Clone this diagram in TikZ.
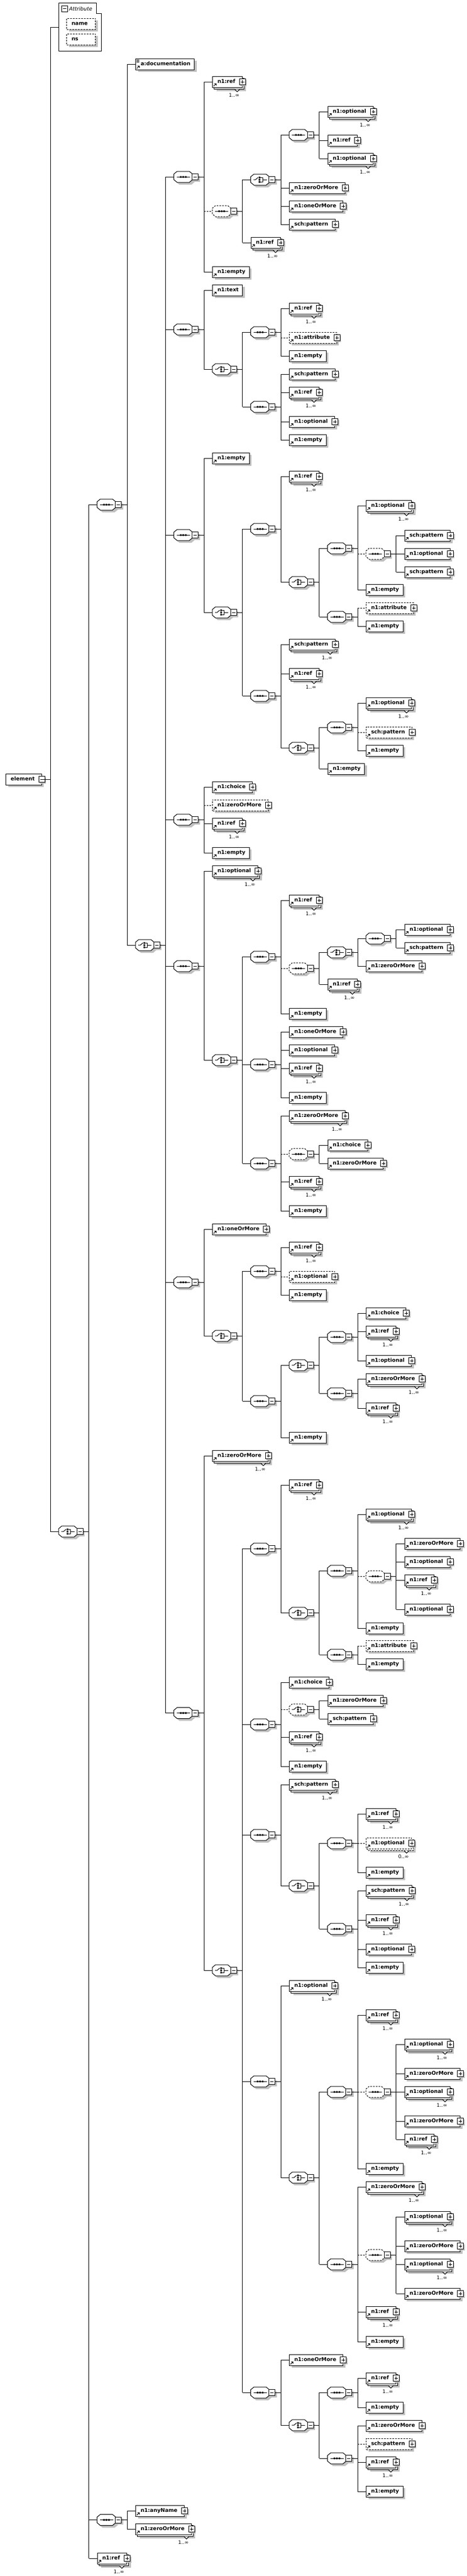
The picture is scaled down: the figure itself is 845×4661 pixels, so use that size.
\documentclass[tikz,border=0pt]{standalone}
\usepackage{fontspec}
\setmainfont{DejaVu Sans}
\usetikzlibrary{shadows}
\definecolor{shd}{HTML}{C0C0C0}
\newcommand{\elfont}{\fontsize{9.4}{11}\selectfont\bfseries}
\newcommand{\cx}[1]{106+69.5*(#1-1)}
\tikzset{
  conn/.style={line width=1pt},
  opt/.style={dash pattern=on 3pt off 2pt},
  elbase/.style={draw,fill=white,line width=1pt,anchor=west,minimum height=20pt,inner xsep=0pt,inner ysep=0pt,text height=7.5pt,text depth=2pt,font=\elfont},
  elbox/.style={elbase,drop shadow={shadow xshift=4pt,shadow yshift=-4pt,fill=shd,opacity=1}},
  comp/.style={anchor=west,minimum width=44pt,minimum height=20pt,inner sep=0pt,outer sep=0pt},
  multlab/.style={font=\fontsize{9}{10}\selectfont,inner sep=0pt}
}
% small buttons and icons
\newcommand{\plusb}[1]{%
  \begin{scope}[shift={(#1.east)}]
    \fill[shd] (-3.5,-3.5) rectangle (7.5,7.5);
    \draw[line width=1pt,fill=white] (-5.5,-5.5) rectangle (5.5,5.5);
    \draw[line width=1pt] (-3,0) -- (3,0) (0,-3) -- (0,3);
  \end{scope}}
\newcommand{\minusb}[1]{%
  \begin{scope}[shift={(#1.east)}]
    \fill[shd] (-3.5,-3.5) rectangle (7.5,7.5);
    \draw[line width=1pt,fill=white] (-5.5,-5.5) rectangle (5.5,5.5);
    \draw[line width=1pt] (-3,0) -- (3,0);
  \end{scope}}
\newcommand{\elicon}[1]{%
  \begin{scope}[shift={(#1.south west)}]
    \draw[line width=1pt] (2.5,-2.5) -- (5,-5);
    \fill (3.5,-7.5) -- (7.5,-7.5) -- (7.5,-3.5) -- cycle;
  \end{scope}}
% element boxes
\newcommand{\elm}[5][solid]{%
  \node[elbox,#1] (#2) at ({\cx{#3}},#4) {\hspace*{9pt}#5\hspace*{12.5pt}};
  \elicon{#2}\plusb{#2}}
\newcommand{\elmE}[4]{%
  \node[elbox] (#1) at ({\cx{#2}},#3) {\hspace*{9pt}#4\hspace*{7pt}};
  \elicon{#1}}
\newcommand{\elmM}[6][solid]{%
  \node[elbox,#1,text opacity=0] at ({\cx{#3}+3},#4+3) {\hspace*{9pt}#5\hspace*{12.5pt}};
  \node[elbase,#1] (#2) at ({\cx{#3}},#4) {\hspace*{9pt}#5\hspace*{12.5pt}};
  \elicon{#2}\plusb{#2}
  \draw[line width=1pt,fill=white] ([shift={(-14,3)}]#2.south east) -- ++(4.5,4.5) -- ++(4.5,-4.5);
  \node[multlab] at ([shift={(-15,24)}]#2.east) {#6};}
% compositors
\newcommand{\octa}[1]{\path[#1] (0,-5) -- (6,-10) -- (28,-10) -- (34,-5) -- (34,5) -- (28,10) -- (6,10) -- (0,5) -- cycle;}
\newcommand{\seqsym}{\draw[line width=1pt] (5,0) -- (29,0); \fill (11,-1.5) rectangle ++(3,3) (15.5,-1.5) rectangle ++(3,3) (20,-1.5) rectangle ++(3,3);}
\newcommand{\chosym}{\draw[line width=1pt] (5,0) -- (9,0) -- (13.5,-4); \fill (14.5,-5.5) rectangle ++(3,3) (14.5,-1.5) rectangle ++(3,3) (14.5,2.5) rectangle ++(3,3); \draw[line width=1pt] (17.5,-4) -- (21.5,-4) -- (21.5,4) -- (17.5,4) (21.5,0) -- (29,0);}
\newcommand{\comp}[5]{%
  \node[comp] (#2) at ({\cx{#3}},#4) {};
  \begin{scope}[shift={(#2.west)}]
    \octa{fill=shd,shift={(4,4)}}
    \octa{draw,fill=white,line width=1pt,#1}
    #5
    \fill[shd] (36,-2.5) rectangle (47,8.5);
    \draw[line width=1pt,fill=white] (33,-5.5) rectangle (44,5.5);
    \draw[line width=1pt] (35.5,0) -- (41.5,0);
  \end{scope}}
\newcommand{\seqn}[4][solid]{\comp{#1}{#2}{#3}{#4}{\seqsym}}
\newcommand{\chon}[4][solid]{\comp{#1}{#2}{#3}{#4}{\chosym}}
% connectors parent -> children
\newcommand{\kids}[2]{%
  \foreach \kn/\ks in {#2}{%
    \draw[conn] (#1.east) -- ++(10.5,0) coordinate (kv) -- (kv |- \kn.west) coordinate (kw);
    \draw[conn,\ks] (kw) -- (\kn.west);}}

\begin{document}
\begin{tikzpicture}[x=1pt,y=-1pt]
  \useasboundingbox (0,0) rectangle (845,4661);

  % root element and its attributes
  \node[elbox] (Element) at (10,1410) {\hspace*{9pt}element\hspace*{12.5pt}};
  \minusb{Element}
  \draw[line width=1pt,fill=white] (106,5) -- (174,5) -- (174,24) -- (183,24) -- (183,92) -- (106,92) -- cycle;
  \draw[line width=1pt,fill=white] (111,10) rectangle (122,21);
  \draw[line width=1pt] (113.5,15.5) -- (119.5,15.5);
  \node[anchor=west,inner sep=0pt,font=\fontsize{9.4}{11}\selectfont\itshape] (AttrTitle) at (125,15.5) {Attribute};
  \node[elbox,opt] (AttrName) at (120,43) {\makebox[52pt][l]{\hspace*{9pt}name}};
  \node[elbox,opt] (AttrNs) at (120,71) {\makebox[52pt][l]{\hspace*{9pt}ns}};
  \coordinate (AttrIn) at (106,49);

  \chon{Choice1}{1}{2771}
  \draw[conn] (Element.east) -- (91,1410) coordinate (Ev);
  \draw[conn] (Ev) |- (AttrIn);
  \draw[conn] (Ev) |- (Choice1.west);

  \seqn{Seq1}{2}{913}
  \seqn{Seq2}{2}{4559.5}
  \elmM{Ref1}{2}{4629}{n1:ref}{1..∞}
  \kids{Choice1}{Seq1/solid,Seq2/solid,Ref1/solid}

  \elmE{Doc1}{3}{116}{a:documentation}
  \draw[line width=1pt] ([shift={(2,2.5)}]Doc1.north west) -- ++(5,0) ([shift={(2,4.5)}]Doc1.north west) -- ++(5,0) ([shift={(2,6.5)}]Doc1.north west) -- ++(5,0);
  \chon{Choice2}{3}{1710}
  \kids{Seq1}{Doc1/solid,Choice2/solid}

  \elm{Any1}{3}{4543}{n1:anyName}
  \elmM{Zom1}{3}{4576}{n1:zeroOrMore}{1..∞}
  \kids{Seq2}{Any1/solid,Zom1/solid}

  \seqn{Seq3}{4}{320}
  \seqn{Seq4}{4}{596}
  \seqn{Seq5}{4}{968}
  \seqn{Seq6}{4}{1483}
  \seqn{Seq7}{4}{1748}
  \seqn{Seq8}{4}{2320}
  \seqn{Seq9}{4}{3099.5}
  \kids{Choice2}{Seq3/solid,Seq4/solid,Seq5/solid,Seq6/solid,Seq7/solid,Seq8/solid,Seq9/solid}

  % first sequence
  \elmM{Ref2}{5}{148}{n1:ref}{1..∞}
  \seqn[opt]{Seq10}{5}{382}
  \elmE{Emp1}{5}{492}{n1:empty}
  \kids{Seq3}{Ref2/solid,Seq10/opt,Emp1/solid}
  \chon{Choice3}{6}{325}
  \elmM{Ref3}{6}{439}{n1:ref}{1..∞}
  \kids{Seq10}{Choice3/solid,Ref3/solid}
  \seqn{Seq11}{7}{244}
  \elm{Zom2}{7}{340}{n1:zeroOrMore}
  \elm{Oom1}{7}{373}{n1:oneOrMore}
  \elm{Pat1}{7}{406}{sch:pattern}
  \kids{Choice3}{Seq11/solid,Zom2/solid,Oom1/solid,Pat1/solid}
  \elmM{Opt1}{8}{202}{n1:optional}{1..∞}
  \elm{Ref4}{8}{254}{n1:ref}
  \elmM{Opt2}{8}{287}{n1:optional}{1..∞}
  \kids{Seq11}{Opt1/solid,Ref4/solid,Opt2/solid}

  % second sequence
  \elmE{Txt1}{5}{525}{n1:text}
  \chon{Choice4}{5}{668}
  \kids{Seq4}{Txt1/solid,Choice4/solid}
  \seqn{Seq12}{6}{601}
  \seqn{Seq13}{6}{736}
  \kids{Choice4}{Seq12/solid,Seq13/solid}
  \elmM{Ref5}{7}{558}{n1:ref}{1..∞}
  \elm[opt]{Att1}{7}{611}{n1:attribute}
  \elmE{Emp2}{7}{644}{n1:empty}
  \kids{Seq12}{Ref5/solid,Att1/opt,Emp2/solid}
  \elm{Pat2}{7}{677}{sch:pattern}
  \elmM{Ref6}{7}{710}{n1:ref}{1..∞}
  \elm{Opt3}{7}{763}{n1:optional}
  \elmE{Emp3}{7}{796}{n1:empty}
  \kids{Seq13}{Pat2/solid,Ref6/solid,Opt3/solid,Emp3/solid}

  % third sequence
  \elmE{Emp4}{5}{829}{n1:empty}
  \chon{Choice5}{5}{1108}
  \kids{Seq5}{Emp4/solid,Choice5/solid}
  \seqn{Seq14}{6}{957}
  \seqn{Seq15}{6}{1259}
  \kids{Choice5}{Seq14/solid,Seq15/solid}
  \elmM{Ref7}{7}{862}{n1:ref}{1..∞}
  \chon{Choice6}{7}{1053}
  \kids{Seq14}{Ref7/solid,Choice6/solid}
  \seqn{Seq16}{8}{992}
  \seqn{Seq17}{8}{1116}
  \kids{Choice6}{Seq16/solid,Seq17/solid}
  \elmM{Opt4}{9}{915}{n1:optional}{1..∞}
  \seqn[opt]{Seq18}{9}{1002}
  \elmE{Emp5}{9}{1067}{n1:empty}
  \kids{Seq16}{Opt4/solid,Seq18/opt,Emp5/solid}
  \elm{Pat3}{10}{969}{sch:pattern}
  \elm{Opt5}{10}{1002}{n1:optional}
  \elm{Pat4}{10}{1035}{sch:pattern}
  \kids{Seq18}{Pat3/solid,Opt5/solid,Pat4/solid}
  \elm[opt]{Att2}{9}{1100}{n1:attribute}
  \elmE{Emp6}{9}{1133}{n1:empty}
  \kids{Seq17}{Att2/opt,Emp6/solid}
  \elmM{Pat5}{7}{1166}{sch:pattern}{1..∞}
  \elmM{Ref8}{7}{1219}{n1:ref}{1..∞}
  \chon{Choice7}{7}{1353}
  \kids{Seq15}{Pat5/solid,Ref8/solid,Choice7/solid}
  \seqn{Seq19}{8}{1316}
  \elmE{Emp7}{8}{1391}{n1:empty}
  \kids{Choice7}{Seq19/solid,Emp7/solid}
  \elmM{Opt6}{9}{1272}{n1:optional}{1..∞}
  \elm[opt]{Pat6}{9}{1325}{sch:pattern}
  \elmE{Emp8}{9}{1358}{n1:empty}
  \kids{Seq19}{Opt6/solid,Pat6/opt,Emp8/solid}

  % fourth sequence
  \elm{Chc1}{5}{1424}{n1:choice}
  \elm[opt]{Zom3}{5}{1457}{n1:zeroOrMore}
  \elmM{Ref9}{5}{1490}{n1:ref}{1..∞}
  \elmE{Emp9}{5}{1543}{n1:empty}
  \kids{Seq6}{Chc1/solid,Zom3/opt,Ref9/solid,Emp9/solid}

  % fifth sequence
  \elmM{Opt7}{5}{1576}{n1:optional}{1..∞}
  \chon{Choice8}{5}{1918}
  \kids{Seq7}{Opt7/solid,Choice8/solid}
  \seqn{Seq20}{6}{1731}
  \seqn{Seq21}{6}{1926}
  \seqn{Seq22}{6}{2105}
  \kids{Choice8}{Seq20/solid,Seq21/solid,Seq22/solid}
  \elmM{Ref10}{7}{1629}{n1:ref}{1..∞}
  \seqn[opt]{Seq23}{7}{1752}
  \elmE{Emp10}{7}{1834}{n1:empty}
  \kids{Seq20}{Ref10/solid,Seq23/opt,Emp10/solid}
  \chon{Choice9}{8}{1723}
  \elmM{Ref11}{8}{1781}{n1:ref}{1..∞}
  \kids{Seq23}{Choice9/solid,Ref11/solid}
  \seqn{Seq24}{9}{1698}
  \elm{Zom4}{9}{1748}{n1:zeroOrMore}
  \kids{Choice9}{Seq24/solid,Zom4/solid}
  \elm{Opt8}{10}{1682}{n1:optional}
  \elm{Pat7}{10}{1715}{sch:pattern}
  \kids{Seq24}{Opt8/solid,Pat7/solid}
  \elm{Oom2}{7}{1867}{n1:oneOrMore}
  \elm{Opt9}{7}{1900}{n1:optional}
  \elmM{Ref12}{7}{1933}{n1:ref}{1..∞}
  \elmE{Emp11}{7}{1986}{n1:empty}
  \kids{Seq21}{Oom2/solid,Opt9/solid,Ref12/solid,Emp11/solid}
  \elmM{Zom5}{7}{2019}{n1:zeroOrMore}{1..∞}
  \seqn[opt]{Seq25}{7}{2088}
  \elmM{Ref13}{7}{2138}{n1:ref}{1..∞}
  \elmE{Emp12}{7}{2191}{n1:empty}
  \kids{Seq22}{Zom5/solid,Seq25/opt,Ref13/solid,Emp12/solid}
  \elm{Chc2}{8}{2072}{n1:choice}
  \elm{Zom6}{8}{2105}{n1:zeroOrMore}
  \kids{Seq25}{Chc2/solid,Zom6/solid}

  % sixth sequence
  \elm{Oom3}{5}{2224}{n1:oneOrMore}
  \chon{Choice10}{5}{2417}
  \kids{Seq8}{Oom3/solid,Choice10/solid}
  \seqn{Seq26}{6}{2300}
  \seqn{Seq27}{6}{2535}
  \kids{Choice10}{Seq26/solid,Seq27/solid}
  \elmM{Ref14}{7}{2257}{n1:ref}{1..∞}
  \elm[opt]{Opt10}{7}{2310}{n1:optional}
  \elmE{Emp13}{7}{2343}{n1:empty}
  \kids{Seq26}{Ref14/solid,Opt10/opt,Emp13/solid}
  \chon{Choice11}{7}{2470}
  \elmE{Emp14}{7}{2601}{n1:empty}
  \kids{Seq27}{Choice11/solid,Emp14/solid}
  \seqn{Seq28}{8}{2419}
  \seqn{Seq29}{8}{2521}
  \kids{Choice11}{Seq28/solid,Seq29/solid}
  \elm{Chc3}{9}{2376}{n1:choice}
  \elmM{Ref15}{9}{2409}{n1:ref}{1..∞}
  \elm{Opt11}{9}{2462}{n1:optional}
  \kids{Seq28}{Chc3/solid,Ref15/solid,Opt11/solid}
  \elmM{Zom7}{9}{2495}{n1:zeroOrMore}{1..∞}
  \elmM{Ref16}{9}{2548}{n1:ref}{1..∞}
  \kids{Seq29}{Zom7/solid,Ref16/solid}

  % seventh sequence
  \elmM{Zom8}{5}{2634}{n1:zeroOrMore}{1..∞}
  \chon{Choice12}{5}{3565}
  \kids{Seq9}{Zom8/solid,Choice12/solid}
  \seqn{Seq30}{6}{2802}
  \seqn{Seq31}{6}{3120}
  \seqn{Seq32}{6}{3320}
  \seqn{Seq33}{6}{3766}
  \seqn{Seq34}{6}{4329}
  \kids{Choice12}{Seq30/solid,Seq31/solid,Seq32/solid,Seq33/solid,Seq34/solid}
  \elmM{Ref17}{7}{2687}{n1:ref}{1..∞}
  \chon{Choice13}{7}{2918}
  \kids{Seq30}{Ref17/solid,Choice13/solid}
  \seqn{Seq35}{8}{2842}
  \seqn{Seq36}{8}{2994}
  \kids{Choice13}{Seq35/solid,Seq36/solid}
  \elmM{Opt12}{9}{2740}{n1:optional}{1..∞}
  \seqn[opt]{Seq37}{9}{2852}
  \elmE{Emp15}{9}{2946}{n1:empty}
  \kids{Seq35}{Opt12/solid,Seq37/opt,Emp15/solid}
  \elm{Zom9}{10}{2793}{n1:zeroOrMore}
  \elm{Opt13}{10}{2826}{n1:optional}
  \elmM{Ref18}{10}{2859}{n1:ref}{1..∞}
  \elm{Opt14}{10}{2912}{n1:optional}
  \kids{Seq37}{Zom9/solid,Opt13/solid,Ref18/solid,Opt14/solid}
  \elm[opt]{Att3}{9}{2978}{n1:attribute}
  \elmE{Emp16}{9}{3011}{n1:empty}
  \kids{Seq36}{Att3/opt,Emp16/solid}
  \elm{Chc4}{7}{3044}{n1:choice}
  \chon[opt]{Choice14}{7}{3093}
  \elmM{Ref19}{7}{3143}{n1:ref}{1..∞}
  \elmE{Emp17}{7}{3196}{n1:empty}
  \kids{Seq31}{Chc4/solid,Choice14/opt,Ref19/solid,Emp17/solid}
  \elm{Zom10}{8}{3077}{n1:zeroOrMore}
  \elm{Pat8}{8}{3110}{sch:pattern}
  \kids{Choice14}{Zom10/solid,Pat8/solid}
  \elmM{Pat9}{7}{3229}{sch:pattern}{1..∞}
  \chon{Choice15}{7}{3412}
  \kids{Seq32}{Pat9/solid,Choice15/solid}
  \seqn{Seq38}{8}{3335}
  \seqn{Seq39}{8}{3490}
  \kids{Choice15}{Seq38/solid,Seq39/solid}
  \elmM{Ref20}{9}{3282}{n1:ref}{1..∞}
  \elmM[opt]{Opt15}{9}{3335}{n1:optional}{0..∞}
  \elmE{Emp18}{9}{3388}{n1:empty}
  \kids{Seq38}{Ref20/solid,Opt15/opt,Emp18/solid}
  \elmM{Pat10}{9}{3421}{sch:pattern}{1..∞}
  \elmM{Ref21}{9}{3474}{n1:ref}{1..∞}
  \elm{Opt16}{9}{3527}{n1:optional}
  \elmE{Emp19}{9}{3560}{n1:empty}
  \kids{Seq39}{Pat10/solid,Ref21/solid,Opt16/solid,Emp19/solid}
  \elmM{Opt17}{7}{3593}{n1:optional}{1..∞}
  \chon{Choice16}{7}{3940}
  \kids{Seq33}{Opt17/solid,Choice16/solid}
  \seqn{Seq40}{8}{3785}
  \seqn{Seq41}{8}{4097}
  \kids{Choice16}{Seq40/solid,Seq41/solid}
  \elmM{Ref22}{9}{3646}{n1:ref}{1..∞}
  \seqn[opt]{Seq42}{9}{3785}
  \elmE{Emp20}{9}{3924}{n1:empty}
  \kids{Seq40}{Ref22/solid,Seq42/opt,Emp20/solid}
  \elmM{Opt18}{10}{3699}{n1:optional}{1..∞}
  \elm{Zom11}{10}{3752}{n1:zeroOrMore}
  \elmM{Opt19}{10}{3785}{n1:optional}{1..∞}
  \elm{Zom12}{10}{3838}{n1:zeroOrMore}
  \elmM{Ref23}{10}{3871}{n1:ref}{1..∞}
  \kids{Seq42}{Opt18/solid,Zom11/solid,Opt19/solid,Zom12/solid,Ref23/solid}
  \elmM{Zom13}{9}{3957}{n1:zeroOrMore}{1..∞}
  \seqn[opt]{Seq43}{9}{4080}
  \elmM{Ref24}{9}{4183}{n1:ref}{1..∞}
  \elmE{Emp21}{9}{4237}{n1:empty}
  \kids{Seq41}{Zom13/solid,Seq43/opt,Ref24/solid,Emp21/solid}
  \elmM{Opt20}{10}{4011}{n1:optional}{1..∞}
  \elm{Zom14}{10}{4064}{n1:zeroOrMore}
  \elmM{Opt21}{10}{4097}{n1:optional}{1..∞}
  \elm{Zom15}{10}{4150}{n1:zeroOrMore}
  \kids{Seq43}{Opt20/solid,Zom14/solid,Opt21/solid,Zom15/solid}
  \elm{Oom4}{7}{4270}{n1:oneOrMore}
  \chon{Choice17}{7}{4388}
  \kids{Seq34}{Oom4/solid,Choice17/solid}
  \seqn{Seq44}{8}{4329}
  \seqn{Seq45}{8}{4448}
  \kids{Choice17}{Seq44/solid,Seq45/solid}
  \elmM{Ref25}{9}{4303}{n1:ref}{1..∞}
  \elmE{Emp22}{9}{4356}{n1:empty}
  \kids{Seq44}{Ref25/solid,Emp22/solid}
  \elm{Zom16}{9}{4389}{n1:zeroOrMore}
  \elm[opt]{Pat11}{9}{4422}{sch:pattern}
  \elmM{Ref26}{9}{4455}{n1:ref}{1..∞}
  \elmE{Emp23}{9}{4508}{n1:empty}
  \kids{Seq45}{Zom16/solid,Pat11/opt,Ref26/solid,Emp23/solid}
\end{tikzpicture}
\end{document}
